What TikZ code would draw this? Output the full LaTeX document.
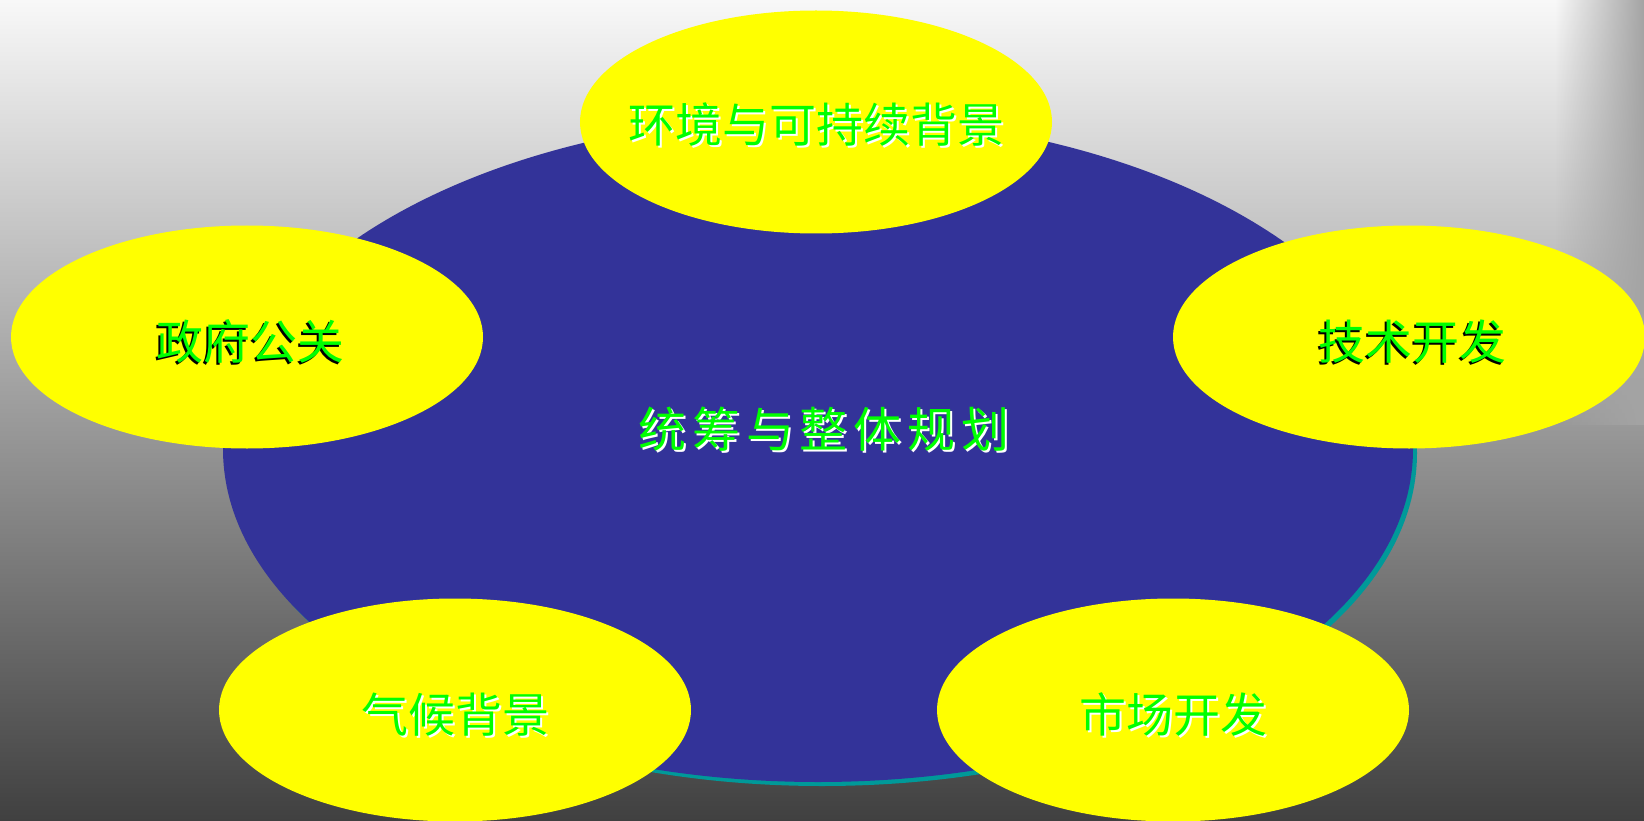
\documentclass[tikz,border=0pt]{standalone}
\usepackage{fontspec}
\newfontfamily\cjk{Noto Sans CJK SC}
\usetikzlibrary{shapes.geometric,fadings}
\definecolor{bgtop}{HTML}{F8F8F8}
\definecolor{bgmid}{HTML}{B8B8B8}
\definecolor{bgbot}{HTML}{404040}
\definecolor{stripgray}{HTML}{A4A4A4}
\definecolor{planblue}{HTML}{333399}
\definecolor{planteal}{HTML}{009999}
\definecolor{bubbleyellow}{HTML}{FFFF00}
\definecolor{textgreen}{HTML}{00FF00}
% text with a drop shadow: colour, x offset, y offset, text
\newcommand\shadowed[4]{\rlap{\hspace{#2}\raisebox{#3}{\color{#1}#4}}#4}
\tikzset{
  bubble/.style={ellipse, fill=bubbleyellow, minimum width=472pt, minimum height=223pt, inner sep=0pt},
  bubbletext/.style={text=textgreen, font=\cjk\fontsize{47}{50}\selectfont, inner sep=0pt},
}
\begin{document}
\begin{tikzpicture}[x=1pt,y=-1pt]
  \useasboundingbox (0,0) rectangle (1644,821);
  % background
  \shade[top color=bgtop, middle color=bgmid, bottom color=bgbot] (0,0) rectangle (1644,821);
  \fill[stripgray, path fading=west] (1555,0) rectangle (1644,425);
  % central plan
  \node[ellipse, fill=planteal, minimum width=1190pt, minimum height=666pt] (planshadow) at (822,453) {};
  \node[ellipse, fill=planblue, minimum width=1190pt, minimum height=666pt] (plan) at (818,449) {};
  \node[bubbletext, font=\cjk\fontsize{48}{52}\selectfont\addfontfeature{LetterSpace=12}] (plantext) at (824,430)
    {\shadowed{white}{2pt}{-2pt}{统筹与整体规划}};
  % surrounding bubbles
  \node[bubble] (env) at (816,122) {};
  \node[bubble] (gov) at (247,337) {};
  \node[bubble] (tech) at (1409,337) {};
  \node[bubble] (climate) at (455,710) {};
  \node[bubble] (market) at (1173,710) {};
  \node[bubbletext] (envtext) at ([yshift=-4pt]env.center) {\shadowed{white}{2pt}{-2pt}{环境与可持续背景}};
  \node[bubbletext] (govtext) at ([xshift=3pt,yshift=-6pt]gov.center) {\shadowed{black}{-2pt}{-2pt}{政府公关}};
  \node[bubbletext] (techtext) at ([xshift=3pt,yshift=-6pt]tech.center) {\shadowed{black}{-2pt}{-2pt}{技术开发}};
  \node[bubbletext] (climatetext) at ([yshift=-6pt]climate.center) {\shadowed{white}{2pt}{-2pt}{气候背景}};
  \node[bubbletext] (markettext) at ([yshift=-6pt]market.center) {\shadowed{white}{2pt}{-2pt}{市场开发}};
\end{tikzpicture}
\end{document}
